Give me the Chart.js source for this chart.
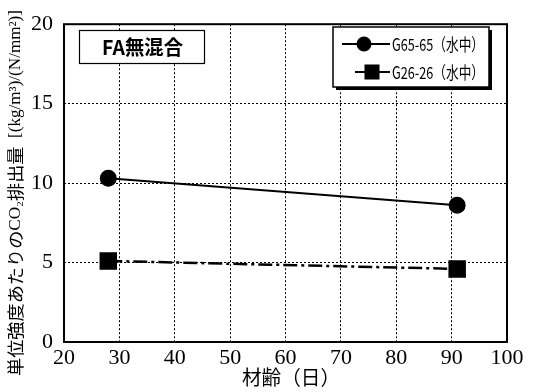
<!DOCTYPE html>
<html><head><meta charset="utf-8">
<script src="https://cdn.jsdelivr.net/npm/chart.js@4/dist/chart.umd.min.js"></script>
<style>html,body{margin:0;padding:0;background:#fff}#wrap{width:545px;height:392px}</style>
</head><body><div id="wrap"><canvas id="c" width="545" height="392"></canvas></div>
<script>
const ages = [28, 91];
const seriesNames = ['G65-65（水中）', 'G26-26（水中）'];
const g65 = [10.3, 8.6];
const g26 = [5.1, 4.6];
const xTicks = [20, 30, 40, 50, 60, 70, 80, 90, 100];
const yTicks = [0, 5, 10, 15, 20];
const panelLabel = 'FA無混合';
const xTitle = '材齢（日）';
const yTitleParts = [['単位強度あたりの','jp'],['CO₂','serif'],['排出量','jp'],['  [(kg/m³)/(N/mm²)]','serif']];

const JP = '"Noto Sans CJK JP", sans-serif';
const SERIF = '"Liberation Serif", "DejaVu Serif", serif';

function textWidth(ctx, text, w) {
  const m = ctx.measureText(text).width;
  ctx.save(); ctx.scale(w / m, 1); ctx.fillText(text, 0, 0); ctx.restore();
}

const decor = {
  id: 'decor',
  afterDraw(chart) {
    const ctx = chart.ctx, a = chart.chartArea;
    ctx.save();
    ctx.setLineDash([]);
    ctx.strokeStyle = '#000'; ctx.lineWidth = 2;
    ctx.strokeRect(a.left, a.top, a.right - a.left, a.bottom - a.top);
    ctx.fillStyle = '#fff'; ctx.fillRect(79, 30, 125, 33);
    ctx.lineWidth = 1.2; ctx.strokeRect(79.5, 30.5, 125, 33);
    ctx.fillStyle = '#000'; ctx.font = 'bold 20px ' + JP;
    ctx.textAlign = 'left'; ctx.textBaseline = 'middle';
    ctx.save(); ctx.translate(102, 47); textWidth(ctx, panelLabel, 81); ctx.restore();
    const lx = 333, ly = 27, lw = 156, lh = 60;
    ctx.fillStyle = '#000'; ctx.fillRect(lx + 3, ly + 3, lw, lh);
    ctx.fillStyle = '#fff'; ctx.fillRect(lx, ly, lw, lh);
    ctx.lineWidth = 1.5; ctx.strokeStyle = '#000'; ctx.strokeRect(lx, ly, lw, lh);
    chart.data.datasets.forEach((ds, i) => {
      const y = ly + 17 + i * 28;
      const x0 = i === 0 ? 342 : 355, x1 = 390, xm = i === 0 ? 364 : 372;
      ctx.lineWidth = 2; ctx.strokeStyle = '#000';
      ctx.beginPath(); ctx.moveTo(x0, y); ctx.lineTo(x1, y); ctx.stroke();
      ctx.fillStyle = '#000';
      if (ds.pointStyle === 'circle') { ctx.beginPath(); ctx.arc(xm, y, 7.5, 0, Math.PI * 2); ctx.fill(); }
      else { ctx.fillRect(xm - 7.5, y - 7.5, 15, 15); }
      ctx.font = '17px ' + JP; ctx.textAlign = 'left'; ctx.textBaseline = 'middle';
      ctx.save(); ctx.translate(392, y + 1); textWidth(ctx, ds.label, 92); ctx.restore();
    });
    ctx.font = '20px ' + JP; ctx.textAlign = 'left'; ctx.textBaseline = 'middle';
    ctx.save(); ctx.translate(242, 377); textWidth(ctx, xTitle, 98); ctx.restore();
    ctx.translate(16, 376); ctx.rotate(-Math.PI / 2);
    ctx.textAlign = 'left'; ctx.textBaseline = 'middle';
    let total = 0;
    const fontOf = f => f === 'jp' ? '17px ' + JP : '16px ' + SERIF;
    yTitleParts.forEach(([t, f]) => { ctx.font = fontOf(f); total += ctx.measureText(t).width; });
    ctx.scale(366 / total, 1);
    let pos = 0;
    yTitleParts.forEach(([t, f]) => {
      ctx.font = fontOf(f);
      ctx.fillText(t, pos, 0);
      pos += ctx.measureText(t).width;
    });
    ctx.restore();
  }
};

new Chart(document.getElementById('c'), {
  type: 'line',
  plugins: [decor],
  data: {
    datasets: [
      { label: seriesNames[0], data: ages.map((x, i) => ({x, y: g65[i]})), borderColor: '#000', backgroundColor: '#000',
        borderWidth: 2, pointStyle: 'circle', pointRadius: 7.5, pointHoverRadius: 7.5 },
      { label: seriesNames[1], data: ages.map((x, i) => ({x, y: g26[i]})), borderColor: '#000', backgroundColor: '#000',
        borderWidth: 2.5, borderDash: [14, 4, 3, 4], pointStyle: 'rect', pointRadius: 10.6, pointHoverRadius: 10.6 }
    ]
  },
  options: {
    responsive: false, animation: false, devicePixelRatio: 1,
    layout: { padding: { top: 18, right: 38, left: 0, bottom: 0 } },
    plugins: { legend: { display: false }, tooltip: { enabled: false } },
    scales: {
      x: {
        type: 'linear', min: 20, max: 100,
        afterBuildTicks: s => { s.ticks = xTicks.map(v => ({value: v})); },
        afterFit: s => { s.height = 50; },
        grid: { color: '#000', lineWidth: 1, drawTicks: false },
        border: { display: false, dash: [2, 2] },
        ticks: { color: '#000', font: { family: SERIF, size: 22 }, padding: 3, maxRotation: 0 }
      },
      y: {
        min: 0, max: 20,
        afterBuildTicks: s => { s.ticks = yTicks.map(v => ({value: v})); },
        afterFit: s => { s.width = 64; },
        grid: { color: '#000', lineWidth: 1, drawTicks: false },
        border: { display: false, dash: [2, 2] },
        ticks: { color: '#000', font: { family: SERIF, size: 22 }, padding: 11 }
      }
    }
  }
});
</script></body></html>
